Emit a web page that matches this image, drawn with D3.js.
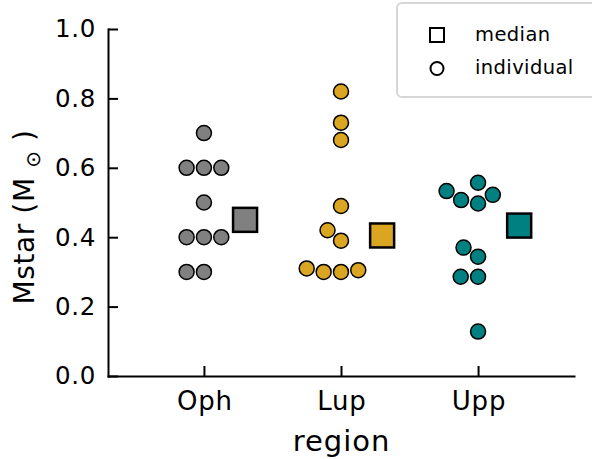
<!DOCTYPE html>
<html>
<head>
<meta charset="utf-8">
<script src="https://cdn.jsdelivr.net/npm/d3@7"></script>
<style>
  body { margin: 0; background: #fff; }
  text { font-family: "DejaVu Sans", sans-serif; fill: #000; }
</style>
</head>
<body>
<svg id="chart" width="592" height="459"></svg>
<script>
// data
const regions = ["Oph", "Lup", "Upp"];
const regionColors = ["#808080", "#daa520", "#008080"];
const ophMass = [0.30, 0.30, 0.40, 0.40, 0.40, 0.50, 0.60, 0.60, 0.60, 0.70];
const lupMass = [0.30, 0.30, 0.305, 0.31, 0.39, 0.42, 0.49, 0.68, 0.73, 0.82];
const uppMass = [0.128, 0.286, 0.286, 0.344, 0.37, 0.497, 0.507, 0.522, 0.533, 0.557];
const yTicks = [0.0, 0.2, 0.4, 0.6, 0.8, 1.0];
const legendLabels = ["median", "individual"];

const masses = [ophMass, lupMass, uppMass];

const svg = d3.select("#chart");
const margin = {left: 108, right: 18, top: 29, bottom: 83};
const W = 592, H = 459;

//scales: categories sit at 0,1,2
var x = d3.scaleLinear().domain([-0.7, 2.7]).range([margin.left, W - margin.right]);
var y = d3.scaleLinear().domain([0, 1]).range([H - margin.bottom, margin.top]);

//axes, ticks pointing inwards
var yAxis = d3.axisLeft(y).tickValues(yTicks).tickFormat(d3.format(".1f")).tickSizeInner(-10).tickSizeOuter(0).tickPadding(12);
var xAxis = d3.axisBottom(x).tickValues([0, 1, 2]).tickFormat(i => regions[i]).tickSizeInner(-10).tickSizeOuter(0).tickPadding(12);

var gy = svg.append("g").attr("transform", "translate(" + margin.left + ",0)").call(yAxis);
var gx = svg.append("g").attr("transform", "translate(0," + (H - margin.bottom) + ")").call(xAxis);
[gx, gy].forEach(g => {
    g.select(".domain").attr("stroke", "#000").attr("stroke-width", 2).attr("stroke-linecap", "square");
    g.selectAll(".tick line").attr("stroke", "#000").attr("stroke-width", 2);
    g.selectAll(".tick text").attr("fill", "#000");
});
gy.selectAll(".tick text").style("font-size", "24.5px").style("letter-spacing", "0.7px");
gx.selectAll(".tick text").style("font-size", "26px").style("letter-spacing", "0.8px")
    .attr("dx", "0.4px").attr("dy", "0.86em");

//seaborn-like swarm placement in pixel space
function swarm(values, mid, r) {
    var pts = values.map(v => ({v: v, py: y(v), px: mid}));
    pts.sort((a, b) => a.v - b.v);
    var placed = [];
    pts.forEach(p => {
        var nb = [];
        for (var k = placed.length - 1; k >= 0; k--) {
            if (placed[k].py - p.py < 2 * r) nb.push(placed[k]); else break;
        }
        var cands = [mid], leftFirst = true;
        nb.forEach(q => {
            var dy = p.py - q.py;
            var dx = Math.sqrt(Math.max(4 * r * r - dy * dy, 0)) * 1.05;
            if (leftFirst) cands.push(q.px - dx, q.px + dx);
            else cands.push(q.px + dx, q.px - dx);
            leftFirst = !leftFirst;
        });
        cands.sort((a, b) => Math.abs(a - mid) - Math.abs(b - mid));
        for (var c of cands) {
            var ok = nb.every(q => (c - q.px) ** 2 + (p.py - q.py) ** 2 >= 4 * r * r - 1e-6);
            if (ok) { p.px = c; break; }
        }
        placed.push(p);
    });
    return placed;
}

masses.forEach((vals, i) => {
    var pts = swarm(vals, x(i), 8.26);
    svg.append("g").selectAll("circle")
        .data(pts)
        .enter().append("circle")
        .attr("cx", d => d.px)
        .attr("cy", d => d.py)
        .attr("r", 7.5)
        .attr("fill", regionColors[i])
        .attr("stroke", "#000")
        .attr("stroke-width", 1.5);

    var med = d3.median(vals);
    svg.append("rect")
        .attr("x", x(i + 0.3) - 12)
        .attr("y", y(med) - 12)
        .attr("width", 24)
        .attr("height", 24)
        .attr("fill", regionColors[i])
        .attr("stroke", "#000")
        .attr("stroke-width", 2.5);
});

//axis labels
svg.append("text")
    .attr("x", x(1) + 0.5)
    .attr("y", 451)
    .attr("text-anchor", "middle")
    .style("font-size", "29px")
    .style("letter-spacing", "1px")
    .text("region");

var yl = svg.append("text")
    .attr("transform", "translate(34,217) rotate(-90)")
    .attr("text-anchor", "middle")
    .style("font-size", "28px")
    .style("letter-spacing", "0.6px");
yl.append("tspan").text("Mstar (M ");
yl.append("tspan").attr("dy", 6).style("font-size", "20px").text("\u2299");
yl.append("tspan").attr("dy", -6).text(" )");

//legend
var lg = svg.append("g");
lg.append("rect")
    .attr("x", 397).attr("y", 3)
    .attr("width", 210).attr("height", 94)
    .attr("rx", 5)
    .attr("fill", "#fff").attr("fill-opacity", 0.8)
    .attr("stroke", "#d6d6d6").attr("stroke-width", 2);
lg.append("rect")
    .attr("x", 437 - 7).attr("y", 35 - 7)
    .attr("width", 14).attr("height", 14)
    .attr("fill", "#fff").attr("stroke", "#000").attr("stroke-width", 2);
lg.append("circle")
    .attr("cx", 437).attr("cy", 68.5).attr("r", 6.5)
    .attr("fill", "#fff").attr("stroke", "#000").attr("stroke-width", 2);
lg.selectAll("text.lab")
    .data(legendLabels)
    .enter().append("text")
    .attr("class", "lab")
    .attr("x", 475)
    .attr("y", (d, i) => 41 + i * 33)
    .style("font-size", "19.5px")
    .style("letter-spacing", "0.4px")
    .text(d => d);
</script>
</body>
</html>
